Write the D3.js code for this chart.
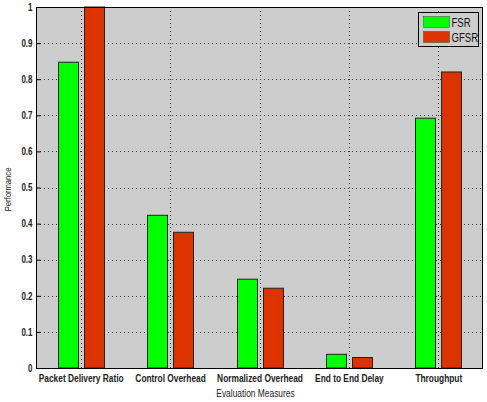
<!DOCTYPE html>
<html>
<head>
<meta charset="utf-8">
<script src="https://cdn.jsdelivr.net/npm/d3@7"></script>
<style>
  body { margin: 0; background: #fff; }
  svg text { font-family: "Liberation Sans", Arial, sans-serif; }
</style>
</head>
<body>
<script>
var categories = ["Packet Delivery Ratio", "Control Overhead", "Normalized Overhead", "End to End Delay", "Throughput"];
var fsr = [0.847, 0.423, 0.246, 0.038, 0.692];
var gfsr = [1.0, 0.376, 0.221, 0.029, 0.82];
var seriesNames = ["FSR", "GFSR"];
var seriesColors = ["#00ff00", "#dd3300"];
var yTicks = [0, 0.1, 0.2, 0.3, 0.4, 0.5, 0.6, 0.7, 0.8, 0.9, 1];

var width = 487, height = 402;
var mLeft = 36, mRight = 483, mTop = 7, mBottom = 368;

var svg = d3.select("body").append("svg")
  .attr("width", width)
  .attr("height", height);

var x = d3.scaleLinear().domain([0.5, categories.length + 0.5]).range([mLeft, mRight]);
var y = d3.scaleLinear().domain([0, 1]).range([mBottom, mTop]);

// plot background
svg.append("rect")
  .attr("x", mLeft).attr("y", mTop)
  .attr("width", mRight - mLeft).attr("height", mBottom - mTop)
  .attr("fill", "#cdcdcd");

// grid
svg.append("g").selectAll("line")
  .data(yTicks.slice(1, -1))
  .enter().append("line")
  .attr("x1", mLeft).attr("x2", mRight)
  .attr("y1", function(d){ return Math.round(y(d)) + 0.5; })
  .attr("y2", function(d){ return Math.round(y(d)) + 0.5; })
  .attr("stroke", "#333").attr("stroke-dasharray", "1,3");

svg.append("g").selectAll("line")
  .data(categories)
  .enter().append("line")
  .attr("x1", function(d, i){ return Math.round(x(i + 1)) + 0.5; })
  .attr("x2", function(d, i){ return Math.round(x(i + 1)) + 0.5; })
  .attr("y1", mTop).attr("y2", mBottom)
  .attr("stroke", "#333").attr("stroke-dasharray", "1,3");

// bars
var barW = 20, off = 13;
var data = [fsr, gfsr];
data.forEach(function(vals, s){
  svg.append("g").selectAll("rect")
    .data(vals)
    .enter().append("rect")
    .attr("x", function(d, i){ return Math.round(x(i + 1) + (s === 0 ? -off : off) - barW / 2) + 0.5; })
    .attr("y", function(d){ return y(d); })
    .attr("width", barW)
    .attr("height", function(d){ return y(0) - y(d); })
    .attr("fill", seriesColors[s])
    .attr("stroke", "#222").attr("stroke-width", 1);
});

// frame
svg.append("rect")
  .attr("x", mLeft + 0.5).attr("y", mTop + 0.5)
  .attr("width", mRight - mLeft - 1).attr("height", mBottom - mTop)
  .attr("fill", "none").attr("stroke", "#000");

// axes (narrow look of the original: squeeze text with scale(k,1))
var yAxis = d3.axisLeft(y).tickValues(yTicks).tickSize(4).tickFormat(function(d){ return d === 0 ? "0" : String(+d.toFixed(1)); });
var gy = svg.append("g").attr("transform", "translate(" + (mLeft + 0.5) + ",0)").call(yAxis);
gy.select(".domain").remove();
gy.selectAll(".tick line").attr("x2", 4).attr("stroke", "#000");
gy.selectAll("text").attr("x", -5).attr("font-size", 10).attr("font-weight", "bold").attr("fill", "#222")
  .attr("transform", "scale(0.8,1)");

var xAxis = d3.axisBottom(x).tickValues([1, 2, 3, 4, 5]).tickSize(0).tickFormat(function(d){ return categories[d - 1]; });
var gx = svg.append("g").attr("transform", "translate(0," + (mBottom + 0.5) + ")").call(xAxis);
gx.select(".domain").remove();
gx.selectAll("text").attr("dy", "0.95em").attr("font-size", 11).attr("font-weight", "bold").attr("fill", "#222")
  .attr("transform", "scale(0.76,1)");

// axis titles
svg.append("text")
  .attr("transform", "translate(" + ((mLeft + mRight) / 2 - 4) + ",397) scale(0.8,1)")
  .attr("text-anchor", "middle").attr("font-size", 10.5).attr("fill", "#222")
  .text("Evaluation Measures");

svg.append("text")
  .attr("transform", "translate(11," + ((mTop + mBottom) / 2 + 2) + ") rotate(-90) scale(0.85,1)")
  .attr("text-anchor", "middle").attr("font-size", 9).attr("fill", "#222")
  .text("Performance");

// legend
var lg = svg.append("g").attr("transform", "translate(418.5,12.5)");
lg.append("rect").attr("width", 60).attr("height", 34).attr("fill", "#cdcdcd").attr("stroke", "#000");
seriesNames.forEach(function(n, i){
  lg.append("rect").attr("x", 5).attr("y", 4 + i * 15).attr("width", 26).attr("height", 11)
    .attr("fill", seriesColors[i]).attr("stroke", "#444").attr("stroke-width", 0.5);
  lg.append("text").attr("transform", "translate(33," + (14 + i * 15) + ") scale(0.8,1)")
    .attr("font-size", 12).attr("fill", "#111").text(n);
});
</script>
</body>
</html>
